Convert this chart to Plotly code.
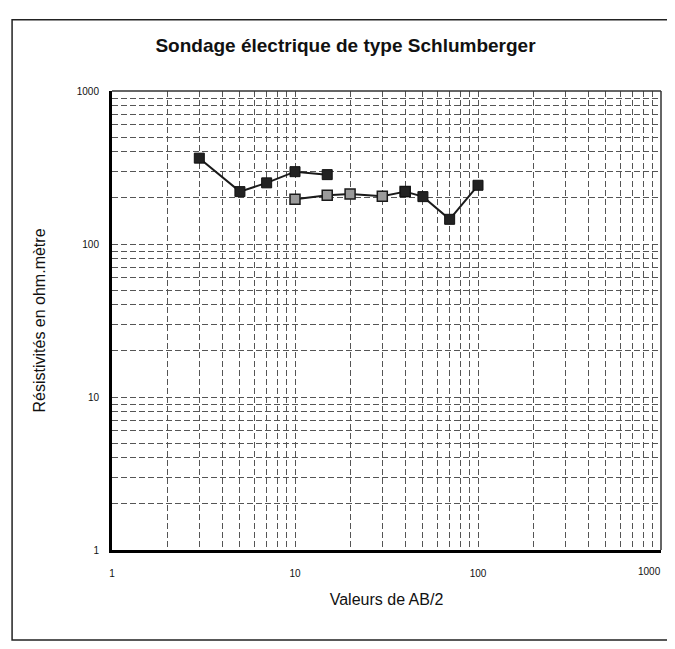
import plotly.graph_objects as go

# Data
ab2_s1 = [3, 5, 7, 10, 15]
rho_s1 = [364, 220, 251, 297, 284]

ab2_s2 = [10, 15, 20, 30, 40]
rho_s2 = [196, 208, 212, 205, 220]

ab2_s3 = [40, 50, 70, 100]
rho_s3 = [220, 204, 145, 242]

decade_labels = {1: "1", 10: "10", 100: "100", 1000: "1000"}
grid_vals = [m * 10 ** e for e in range(3) for m in range(1, 10)] + [1000]
y_text = [decade_labels.get(v, "") for v in grid_vals]
x_text = [decade_labels.get(v, "") if v < 1000 else "" for v in grid_vals]

fig = go.Figure()

fig.add_trace(go.Scatter(x=ab2_s2, y=rho_s2, mode="lines+markers",
                         line=dict(color="#1a1a1a", width=2),
                         marker=dict(symbol="square", size=10, color="#9a9a9a",
                                     line=dict(color="#1a1a1a", width=1.5)),
                         showlegend=False))
fig.add_trace(go.Scatter(x=ab2_s1, y=rho_s1, mode="lines+markers",
                         line=dict(color="#1a1a1a", width=2),
                         marker=dict(symbol="square", size=10, color="#222222",
                                     line=dict(color="#111111", width=1)),
                         showlegend=False))
fig.add_trace(go.Scatter(x=ab2_s3, y=rho_s3, mode="lines+markers",
                         line=dict(color="#1a1a1a", width=2),
                         marker=dict(symbol="square", size=10, color="#222222",
                                     line=dict(color="#111111", width=1)),
                         showlegend=False))

axis_common = dict(
    type="log", range=[0, 3],
    tickmode="array", tickvals=grid_vals,
    showgrid=True, gridcolor="#555555", gridwidth=1, griddash="6px,3px",
    ticks="", showline=True, linecolor="black", linewidth=3, mirror=False,
    zeroline=False, ticklabeloverflow="allow",
    tickfont=dict(family="Liberation Sans", size=10, color="#111111"),
)

fig.update_xaxes(**axis_common, ticktext=x_text, ticklabelstandoff=12,
                 title=dict(text="Valeurs de AB/2",
                            font=dict(family="Liberation Sans", size=16, color="#111111"),
                            standoff=16))
fig.update_yaxes(**axis_common, ticktext=y_text, ticklabelstandoff=8,
                 title=dict(text="Résistivités en ohm.mètre",
                            font=dict(family="Liberation Sans", size=16, color="#111111"),
                            standoff=28))

# label for the last x decade, kept inside the page
fig.add_annotation(x=3, y=0, xref="x", yref="paper", text="1000",
                   showarrow=False, xanchor="right", yanchor="top",
                   xshift=2, yshift=-14,
                   font=dict(family="Liberation Sans", size=10, color="#111111"))

# top and right border of plotting area
fig.add_shape(type="line", xref="paper", yref="paper", x0=0, x1=1, y0=1, y1=1,
              line=dict(color="#333333", width=1.5))
fig.add_shape(type="line", xref="paper", yref="paper", x0=1, x1=1, y0=0, y1=1,
              line=dict(color="#333333", width=1.5))
# outer frame
fig.add_shape(type="rect", xref="paper", yref="paper",
              x0=-0.182, x1=1.016, y0=-0.196, y1=1.155,
              line=dict(color="#222222", width=1.5), fillcolor="rgba(0,0,0,0)")

fig.update_layout(
    width=675, height=649,
    paper_bgcolor="white", plot_bgcolor="white",
    margin=dict(l=104, r=22, t=83, b=107, autoexpand=False),
    title=dict(text="<b>Sondage électrique de type Schlumberger</b>",
               x=0.5, xanchor="center", y=0.943, yanchor="middle",
               font=dict(family="Liberation Sans", size=19, color="#111111")),
)

fig.write_html("out.html")
